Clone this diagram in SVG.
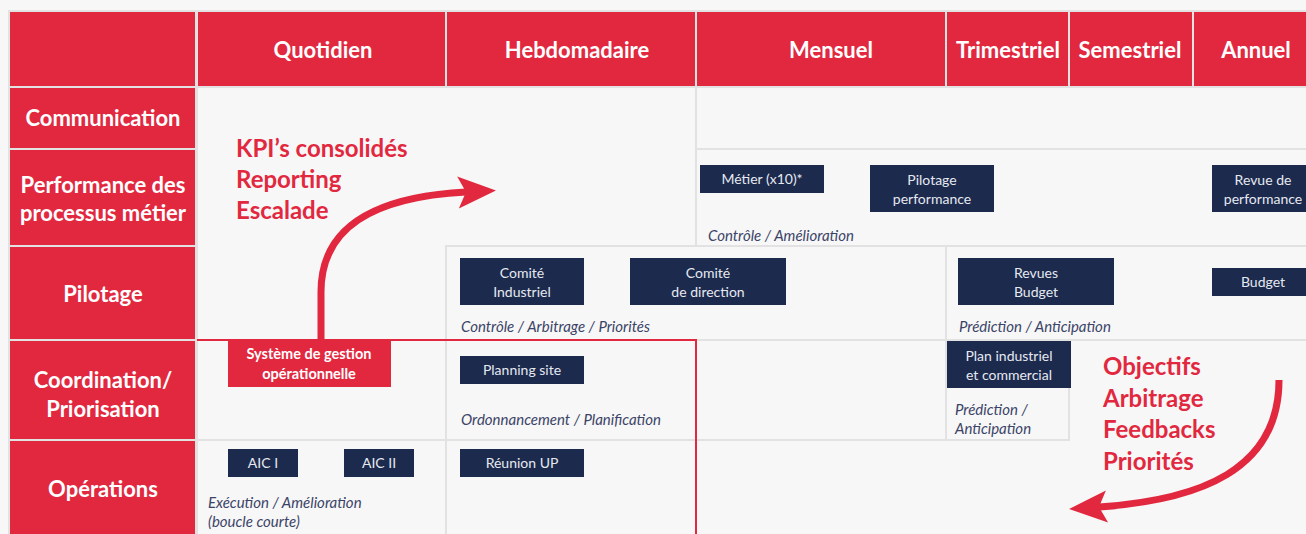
<svg xmlns="http://www.w3.org/2000/svg" width="1306" height="534" viewBox="0 0 1306 534">
<style>
.bg{fill:#f7f7f7}
.grid{fill:#e2e2e2}
.red{fill:#e2283f}
.cell{fill:#f7f7f7}
.hd{font-family:Lato,"Open Sans",sans-serif;font-weight:bold;font-size:22px;fill:#ffffff;text-anchor:middle}
.rl{font-family:Lato,"Open Sans",sans-serif;font-weight:bold;font-size:22px;fill:#ffffff;text-anchor:middle}
.box{fill:#1c2a4e}
.bt{font-family:Lato,"Open Sans",sans-serif;font-size:14px;fill:#e6e9f0;text-anchor:middle}
.it{font-family:Lato,"Open Sans",sans-serif;font-style:italic;font-size:15px;fill:#3b4468}
.big{font-family:Lato,"Open Sans",sans-serif;font-weight:bold;font-size:24px;fill:#e2283f}
.rb{font-family:Lato,"Open Sans",sans-serif;font-weight:bold;font-size:14.5px;fill:#ffffff;text-anchor:middle}
.arr{fill:none;stroke:#e2283f;stroke-width:7}
</style>
<defs>
<marker id="ah" markerUnits="userSpaceOnUse" markerWidth="50" markerHeight="40" viewBox="-10 -20 50 40" refX="0" refY="0" orient="auto" overflow="visible">
<path d="M30,0 L-8,-16 L0,0 L-8,16 Z" fill="#e2283f"/>
</marker>
</defs>
<rect class="bg" x="0" y="0" width="1306" height="534"/>
<rect class="grid" x="8" y="10" width="1298" height="524"/>

<g id="header">
<rect class="red" x="10" y="12" width="185" height="74"/>
<g id="h-quotidien"><rect class="red" x="198" y="12" width="247" height="74"/><text class="hd" x="323" y="58">Quotidien</text></g>
<g id="h-hebdo"><rect class="red" x="447" y="12" width="248" height="74"/><text class="hd" x="577" y="58">Hebdomadaire</text></g>
<g id="h-mensuel"><rect class="red" x="697" y="12" width="248" height="74"/><text class="hd" x="831" y="58">Mensuel</text></g>
<g id="h-trim"><rect class="red" x="947" y="12" width="121" height="74"/><text class="hd" x="1008" y="58">Trimestriel</text></g>
<g id="h-sem"><rect class="red" x="1070" y="12" width="122" height="74"/><text class="hd" x="1130" y="58">Semestriel</text></g>
<g id="h-annuel"><rect class="red" x="1194" y="12" width="112" height="74"/><text class="hd" x="1256" y="58">Annuel</text></g>
</g>

<g id="rows">
<g id="r-communication"><rect class="red" x="10" y="88" width="185" height="60"/><text class="rl" x="103" y="126">Communication</text></g>
<g id="r-performance"><rect class="red" x="10" y="150" width="185" height="95"/><text class="rl" x="103" y="193">Performance des</text><text class="rl" x="103" y="221">processus métier</text></g>
<g id="r-pilotage"><rect class="red" x="10" y="247" width="185" height="92"/><text class="rl" x="103" y="302">Pilotage</text></g>
<g id="r-coordination"><rect class="red" x="10" y="341" width="185" height="98"/><text class="rl" x="103" y="388">Coordination/</text><text class="rl" x="103" y="417">Priorisation</text></g>
<g id="r-operations"><rect class="red" x="10" y="441" width="185" height="93"/><text class="rl" x="103" y="497">Opérations</text></g>
</g>

<g id="cells">
<rect class="cell" x="198" y="88" width="497" height="157"/>
<rect class="cell" x="198" y="88" width="247" height="251"/>
<rect class="cell" x="697" y="88" width="609" height="60"/>
<rect class="cell" x="697" y="150" width="609" height="95"/>
<rect class="cell" x="447" y="247" width="498" height="92"/>
<rect class="cell" x="947" y="247" width="359" height="92"/>
<rect class="cell" x="198" y="341" width="247" height="98"/>
<rect class="cell" x="447" y="341" width="248" height="98"/>
<rect class="cell" x="697" y="341" width="248" height="98"/>
<rect class="cell" x="947" y="341" width="121" height="98"/>
<rect class="cell" x="1070" y="341" width="236" height="193"/>
<rect class="cell" x="198" y="441" width="247" height="93"/>
<rect class="cell" x="447" y="441" width="248" height="93"/>
<rect class="cell" x="697" y="441" width="609" height="93"/>
</g>

<g id="op-zone">
<path d="M197,340 H696 V540" fill="none" stroke="#e2283f" stroke-width="2"/>
</g>

<g id="labels">
<text class="it" x="708" y="241">Contrôle / Amélioration</text>
<text class="it" x="461" y="332">Contrôle / Arbitrage / Priorités</text>
<text class="it" x="959" y="332">Prédiction / Anticipation</text>
<text class="it" x="461" y="425">Ordonnancement / Planification</text>
<text class="it" x="955" y="415">Prédiction /</text>
<text class="it" x="955" y="434">Anticipation</text>
<text class="it" x="208" y="508">Exécution / Amélioration</text>
<text class="it" x="208" y="527">(boucle courte)</text>
</g>

<g id="n-metier"><rect class="box" x="700" y="165" width="124" height="28"/><text class="bt" x="762" y="184">Métier (x10)*</text></g>
<g id="n-pilotage-perf"><rect class="box" x="870" y="165" width="124" height="47"/><text class="bt" x="932" y="185">Pilotage</text><text class="bt" x="932" y="204">performance</text></g>
<g id="n-revue-perf"><rect class="box" x="1212" y="165" width="100" height="47"/><text class="bt" x="1263" y="185">Revue de</text><text class="bt" x="1263" y="204">performance</text></g>
<g id="n-comite-ind"><rect class="box" x="460" y="258" width="124" height="47"/><text class="bt" x="522" y="278">Comité</text><text class="bt" x="522" y="297">Industriel</text></g>
<g id="n-comite-dir"><rect class="box" x="630" y="258" width="156" height="47"/><text class="bt" x="708" y="278">Comité</text><text class="bt" x="708" y="297">de direction</text></g>
<g id="n-revues-budget"><rect class="box" x="958" y="258" width="156" height="47"/><text class="bt" x="1036" y="278">Revues</text><text class="bt" x="1036" y="297">Budget</text></g>
<g id="n-budget"><rect class="box" x="1212" y="268" width="100" height="28"/><text class="bt" x="1263" y="287">Budget</text></g>
<g id="n-systeme"><rect class="red" x="228" y="339" width="163" height="48"/><text class="rb" x="309" y="359">Système de gestion</text><text class="rb" x="309" y="379">opérationnelle</text></g>
<g id="n-planning"><rect class="box" x="460" y="356" width="124" height="28"/><text class="bt" x="522" y="375">Planning site</text></g>
<g id="n-pic"><rect class="box" x="947" y="341" width="124" height="47"/><text class="bt" x="1009" y="361">Plan industriel</text><text class="bt" x="1009" y="380">et commercial</text></g>
<g id="n-aic1"><rect class="box" x="228" y="449" width="70" height="28"/><text class="bt" x="263" y="468">AIC I</text></g>
<g id="n-aic2"><rect class="box" x="344" y="449" width="70" height="28"/><text class="bt" x="379" y="468">AIC II</text></g>
<g id="n-reunion"><rect class="box" x="460" y="449" width="124" height="28"/><text class="bt" x="522" y="468">Réunion UP</text></g>

<g id="connectors">
<path class="arr" d="M321,339 L321,292 C321,228 372,197 466,192" marker-end="url(#ah)"/>
<path class="arr" d="M1279,380 C1279,470 1200,500 1099,507" marker-end="url(#ah)"/>
</g>

<g id="t-up">
<text class="big" x="236" y="157">KPI’s consolidés</text>
<text class="big" x="236" y="188">Reporting</text>
<text class="big" x="236" y="219">Escalade</text>
</g>
<g id="t-down">
<text class="big" x="1103" y="375">Objectifs</text>
<text class="big" x="1103" y="407">Arbitrage</text>
<text class="big" x="1103" y="438">Feedbacks</text>
<text class="big" x="1103" y="470">Priorités</text>
</g>
</svg>
